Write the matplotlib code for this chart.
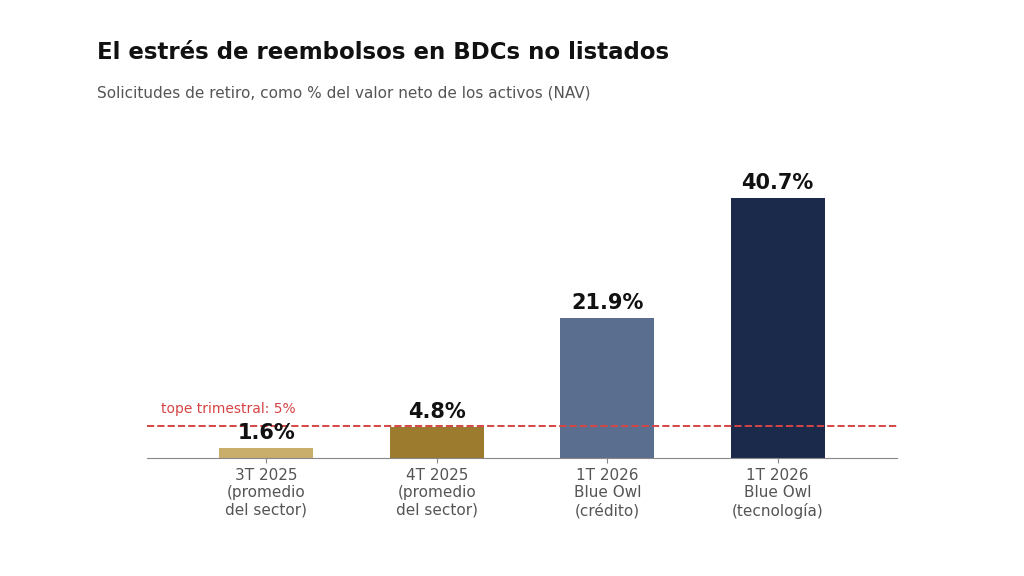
import matplotlib.pyplot as plt

categorias = ["3T 2025\n(promedio\ndel sector)", "4T 2025\n(promedio\ndel sector)",
              "1T 2026\nBlue Owl\n(crédito)", "1T 2026\nBlue Owl\n(tecnología)"]
valores = [1.6, 4.8, 21.9, 40.7]
colores = ["#c9ad6a", "#9c7a2e", "#5a6e8f", "#1b2a4a"]
tope = 5

fig = plt.figure(figsize=(10.24, 5.76), dpi=100)
ax = fig.add_axes([0.1436, 0.2049, 0.7324, 0.5])

x = range(len(valores))
ax.bar(x, valores, width=0.55, color=colores)
for i, v in zip(x, valores):
    ax.text(i, v + 0.8, f"{v}%", ha="center", va="bottom", fontsize=15, fontweight="bold", color="#111111")

ax.axhline(tope, color="#d64545", linestyle="--", linewidth=1.4)
ax.text(-0.62, tope + 1.5, f"tope trimestral: {tope}%", color="#d64545", fontsize=10, ha="left", va="bottom")

ax.set_xlim(-0.70, 3.70)
ax.set_ylim(0, 45.1)
ax.set_xticks(list(x))
ax.set_xticklabels(categorias, fontsize=11, color="#555555")
ax.set_yticks([])
for s in ["top", "right", "left"]:
    ax.spines[s].set_visible(False)
ax.spines["bottom"].set_color("#888888")
ax.tick_params(axis="x", colors="#888888", labelcolor="#555555")

fig.text(0.0947, 0.909, "El estrés de reembolsos en BDCs no listados", fontsize=16.5, fontweight="bold",
         color="#111111", va="center")
fig.text(0.0947, 0.839, "Solicitudes de retiro, como % del valor neto de los activos (NAV)", fontsize=11,
         color="#555555", va="center")

fig.savefig("out.png", dpi=100)
